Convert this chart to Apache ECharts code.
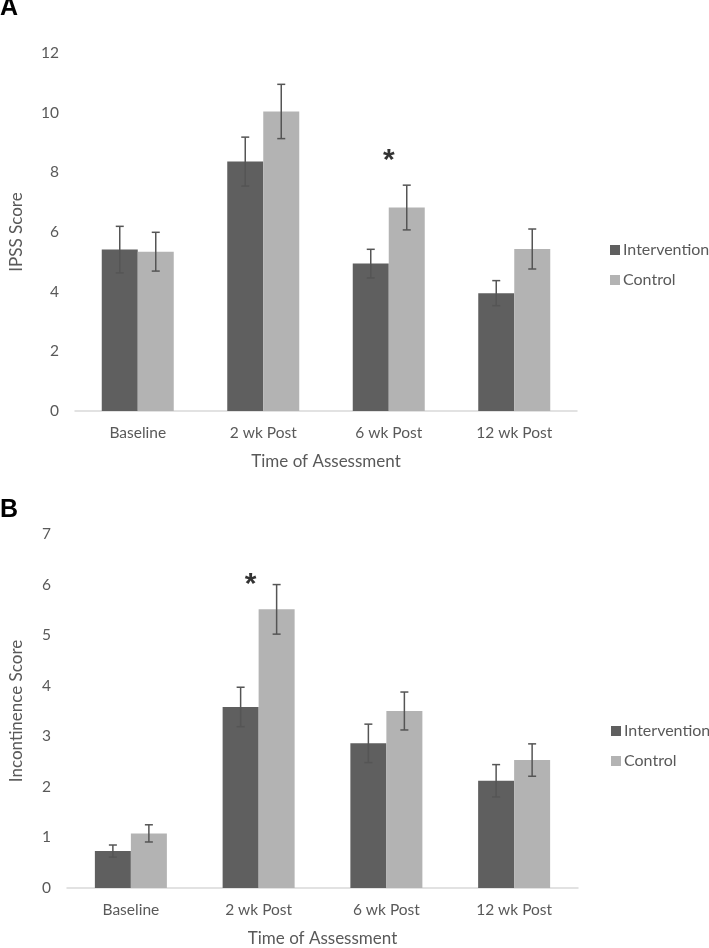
<!DOCTYPE html>
<html><head><meta charset="utf-8">
<script src="https://cdn.jsdelivr.net/npm/echarts@6/dist/echarts.min.js"></script>
<style>html,body{margin:0;padding:0;background:#fff}#c{width:709px;height:948px}</style>
</head><body><div id="c"></div>
<script>
const categories = ['Baseline', '2 wk Post', '6 wk Post', '12 wk Post'];
const seriesNames = ['Intervention', 'Control'];
// Panel A: IPSS Score
const ipssIntervention = [5.41, 8.36, 4.94, 3.95];
const ipssInterventionErr = [0.78, 0.82, 0.48, 0.42];
const ipssControl = [5.34, 10.04, 6.82, 5.43];
const ipssControlErr = [0.65, 0.91, 0.75, 0.67];
const ipssSig = [['6 wk Post', 8.63]];
// Panel B: Incontinence Score
const incIntervention = [0.73, 3.58, 2.86, 2.12];
const incInterventionErr = [0.12, 0.39, 0.38, 0.32];
const incControl = [1.08, 5.51, 3.50, 2.53];
const incControlErr = [0.17, 0.49, 0.375, 0.32];
const incSig = [['2 wk Post', 6.14]];
const yTicksA = [0, 2, 4, 6, 8, 10, 12];
const yTicksB = [0, 1, 2, 3, 4, 5, 6, 7];

const FONT = 'Lato';
const TXT = '#595959';
const DARK = '#5f5f5f';
const LIGHT = '#b3b3b3';
const ERR = '#555555';
const BW = 36;

function errSeries(grid, vals, errs, side) {
  return {
    type: 'custom', xAxisIndex: grid, yAxisIndex: grid, z: 5, silent: true,
    data: vals.map((v, i) => [i, v - errs[i], v + errs[i]]),
    renderItem: function (params, api) {
      const lo = api.coord([api.value(0), api.value(1)]);
      const hi = api.coord([api.value(0), api.value(2)]);
      const x = lo[0] + side * BW / 2;
      const cw = 4;
      const st = { stroke: ERR, lineWidth: 1.5 };
      return { type: 'group', children: [
        { type: 'line', shape: { x1: x, y1: lo[1], x2: x, y2: hi[1] }, style: st },
        { type: 'line', shape: { x1: x - cw, y1: hi[1], x2: x + cw, y2: hi[1] }, style: st },
        { type: 'line', shape: { x1: x - cw, y1: lo[1], x2: x + cw, y2: lo[1] }, style: st }
      ]};
    }
  };
}
function barSeries(grid, name, vals, color) {
  return { type: 'bar', name: name, xAxisIndex: grid, yAxisIndex: grid, data: vals,
    barWidth: BW, barGap: '0%', itemStyle: { color: color }, silent: true };
}
function sigSeries(grid, pts, dx) {
  return { type: 'scatter', xAxisIndex: grid, yAxisIndex: grid, data: pts, symbolSize: 1,
    itemStyle: { color: 'rgba(0,0,0,0)' }, silent: true, z: 10,
    label: { show: true, position: 'inside', offset: [dx, 7], formatter: '*', color: '#000',
      fontFamily: 'Liberation Sans', fontWeight: 'bold', fontSize: 30 } };
}
function xAxis(grid) {
  return { type: 'category', gridIndex: grid, data: categories,
    axisLine: { lineStyle: { color: '#d9d9d9', width: 1.5 } }, axisTick: { show: false },
    axisLabel: { color: TXT, fontFamily: FONT, fontSize: 15.5, margin: 14 },
    name: 'Time of Assessment', nameLocation: 'middle', nameGap: 42,
    nameTextStyle: { color: TXT, fontFamily: FONT, fontSize: 17 } };
}
function yAxis(grid, ticks, name, gap) {
  return { type: 'value', gridIndex: grid, min: ticks[0], max: ticks[ticks.length - 1],
    interval: ticks[1] - ticks[0], splitLine: { show: false },
    axisLine: { show: false }, axisTick: { show: false },
    axisLabel: { color: TXT, fontFamily: FONT, fontSize: 15.5, margin: 16 },
    name: name, nameLocation: 'middle', nameGap: gap, nameRotate: 90,
    nameTextStyle: { color: TXT, fontFamily: FONT, fontSize: 17 } };
}
function legend(left, top) {
  return { orient: 'vertical', left: left, top: top, icon: 'rect', itemWidth: 10, itemHeight: 10,
    itemGap: 14, data: seriesNames, selectedMode: false,
    textStyle: { color: TXT, fontFamily: FONT, fontSize: 16, padding: [0, 0, 0, -2] } };
}

const chart = echarts.init(document.getElementById('c'), null, { renderer: 'canvas' });
chart.setOption({
  animation: false,
  backgroundColor: '#fff',
  grid: [
    { left: 72, top: 53, width: 505, height: 358 },
    { left: 64, top: 534, width: 514, height: 357 }
  ],
  xAxis: [xAxis(0), xAxis(1)],
  yAxis: [yAxis(0, yTicksA, 'IPSS Score', 50), yAxis(1, yTicksB, 'Incontinence Score', 42)],
  legend: [legend(605, 237), legend(606, 718)],
  graphic: [
    { type: 'text', left: 0, top: -4, style: { text: 'A', fontFamily: 'Liberation Sans', fontWeight: 'bold', fontSize: 25, fill: '#000' } },
    { type: 'text', left: 0, top: 498, style: { text: 'B', fontFamily: 'Liberation Sans', fontWeight: 'bold', fontSize: 25, fill: '#000' } }
  ],
  series: [
    barSeries(0, seriesNames[0], ipssIntervention, DARK),
    barSeries(0, seriesNames[1], ipssControl, LIGHT),
    errSeries(0, ipssIntervention, ipssInterventionErr, -1),
    errSeries(0, ipssControl, ipssControlErr, 1),
    sigSeries(0, ipssSig, 0),
    barSeries(1, seriesNames[0], incIntervention, DARK),
    barSeries(1, seriesNames[1], incControl, LIGHT),
    errSeries(1, incIntervention, incInterventionErr, -1),
    errSeries(1, incControl, incControlErr, 1),
    sigSeries(1, incSig, -8)
  ]
});
</script></body></html>
